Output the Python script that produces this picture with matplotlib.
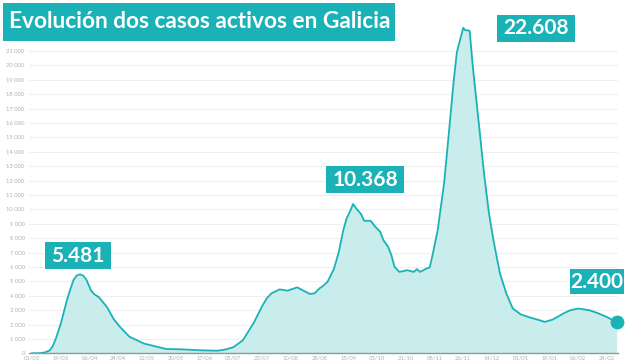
import matplotlib
matplotlib.use("Agg")
import matplotlib.pyplot as plt
import pandas as pd
from matplotlib.patches import Rectangle

plt.rcParams["font.family"] = ["Lato", "DejaVu Sans"]

TEAL = "#1ab2b6"
FILL = "#c9ecec"

# Casos activos en Galicia
dates = [
    "2020-03-01", "2020-03-06", "2020-03-09", "2020-03-12", "2020-03-14", "2020-03-16",
    "2020-03-19", "2020-03-21", "2020-03-23", "2020-03-25", "2020-03-27", "2020-03-29",
    "2020-03-31", "2020-04-02", "2020-04-04", "2020-04-07", "2020-04-09", "2020-04-12",
    "2020-04-17", "2020-04-21", "2020-04-25", "2020-05-01", "2020-05-10", "2020-05-18",
    "2020-05-24", "2020-06-04", "2020-06-14", "2020-06-25", "2020-06-30", "2020-07-05",
    "2020-07-11", "2020-07-18", "2020-07-23", "2020-07-26", "2020-07-29", "2020-08-03",
    "2020-08-08", "2020-08-14", "2020-08-18", "2020-08-22", "2020-08-25", "2020-08-28",
    "2020-08-30", "2020-09-02", "2020-09-06", "2020-09-09", "2020-09-12", "2020-09-14",
    "2020-09-16", "2020-09-18", "2020-09-20", "2020-09-23", "2020-09-25", "2020-09-29",
    "2020-10-02", "2020-10-05", "2020-10-07", "2020-10-10", "2020-10-12", "2020-10-14",
    "2020-10-17", "2020-10-22", "2020-10-26", "2020-10-28", "2020-10-30", "2020-11-03",
    "2020-11-05", "2020-11-07", "2020-11-10", "2020-11-14", "2020-11-17", "2020-11-20",
    "2020-11-22", "2020-11-24", "2020-11-26", "2020-11-27", "2020-11-30", "2020-12-02",
    "2020-12-06", "2020-12-09", "2020-12-12", "2020-12-15", "2020-12-19", "2020-12-23",
    "2020-12-27", "2021-01-01", "2021-01-07", "2021-01-13", "2021-01-16", "2021-01-21",
    "2021-01-28", "2021-02-01", "2021-02-06", "2021-02-13", "2021-02-18", "2021-02-24",
    "2021-03-02",
]
active = [
    0, 10, 60, 200, 500, 1050,
    2050, 2900, 3750, 4450, 5100, 5400,
    5481, 5400, 5120, 4350, 4100, 3880,
    3200, 2400, 1840, 1150, 680, 460,
    300, 270, 210, 180, 260, 420,
    900, 2150, 3260, 3820, 4170, 4440,
    4350, 4580, 4350, 4120, 4170, 4510,
    4660, 4960, 5850, 7000, 8600, 9370,
    9830, 10368, 10060, 9670, 9200, 9200,
    8780, 8440, 7860, 7390, 6820, 6000,
    5650, 5770, 5650, 5840, 5650, 5890,
    5960, 6930, 8550, 11800, 15300, 18900,
    20900, 21770, 22608, 22450, 22400, 19900,
    15700, 12500, 9800, 7800, 5540, 4150,
    3110, 2700, 2480, 2290, 2180, 2340,
    2780, 2990, 3110, 2990, 2800, 2520,
    2150,
]

tick_labels = ["01/03", "19/03", "06/04", "24/04", "12/05", "30/05", "17/06",
               "05/07", "23/07", "10/08", "28/08", "15/09", "03/10", "21/10",
               "08/11", "26/11", "14/12", "01/01", "19/01", "06/02", "24/02"]
y_ticks = list(range(0, 22000, 1000))

# etiquetas destacadas: (texto, caixa en píxeles x0, y0, x1, y1)
callouts = [
    ("5.481", (45, 242, 111, 269)),
    ("10.368", (326, 166, 404, 193)),
    ("22.608", (497, 15, 575, 42)),
    ("2.400", (570, 269, 624, 294)),
]
title = "Evolución dos casos activos en Galicia"

W, H = 640, 360


def px_box(x0, y0, x1, y1):
    return (x0 / W, 1 - y1 / H), (x1 - x0) / W, (y1 - y0) / H


x = pd.to_datetime(dates)
start = pd.Timestamp("2020-03-01")
ticks = [start + pd.Timedelta(days=18 * i) for i in range(len(tick_labels))]

fig = plt.figure(figsize=(6.4, 3.6), dpi=100)
fig.patch.set_facecolor("white")
ax = fig.add_axes([29 / W, (H - 353.3) / H, (618 - 29) / W, (353.3 - 20) / H])

ax.fill_between(x, active, 0, color=FILL, lw=0, zorder=2)
ax.plot(x, active, color=TEAL, lw=1.3, zorder=3, solid_joinstyle="round")
ax.scatter([x[-1]], [active[-1]], s=80, color=TEAL, zorder=4, clip_on=False)

ax.set_xlim(start - pd.Timedelta(days=1.9), start + pd.Timedelta(days=366.9))
ax.set_ylim(0, 23146)

ax.set_yticks(y_ticks)
ax.set_yticklabels([f"{v:,}".replace(",", " ") for v in y_ticks])
ax.set_xticks(ticks)
ax.set_xticklabels(tick_labels)
ax.tick_params(axis="both", length=0, labelsize=4.2, labelcolor="#b0b0b0")
ax.tick_params(axis="y", pad=3)
ax.tick_params(axis="x", pad=1.5)

ax.grid(axis="y", color="#efefef", lw=0.8, zorder=0)
ax.set_axisbelow(True)
for s in ["top", "right", "left"]:
    ax.spines[s].set_visible(False)
ax.spines["bottom"].set_color("#8c9a9a")
ax.spines["bottom"].set_linewidth(1.0)
ax.spines["bottom"].set_zorder(5)

# título
(tx, ty), tw, th = px_box(3, 3, 395, 41)
fig.patches.append(Rectangle((tx, ty), tw, th, transform=fig.transFigure,
                             facecolor=TEAL, edgecolor="none", zorder=10))
fig.text(9 / W, 1 - 22 / H, title, color="white", fontsize=16.3,
         fontweight="bold", ha="left", va="center", zorder=11)

for label, box in callouts:
    (bx, by), bw, bh = px_box(*box)
    fig.patches.append(Rectangle((bx, by), bw, bh, transform=fig.transFigure,
                                 facecolor=TEAL, edgecolor="none", zorder=10))
    fig.text(bx + bw / 2, by + bh / 2, label, color="white", fontsize=15,
             fontweight="bold", ha="center", va="center", zorder=11)

fig.savefig("out.png", dpi=100)
